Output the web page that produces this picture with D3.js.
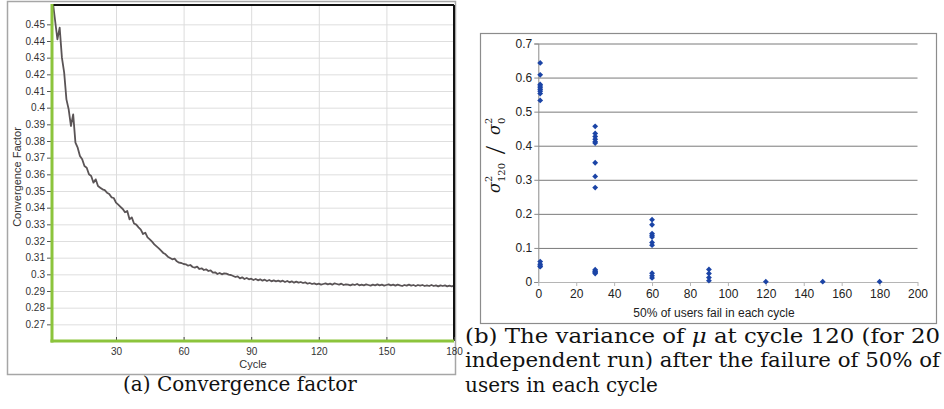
<!DOCTYPE html>
<html>
<head>
<meta charset="utf-8">
<script src="https://cdn.jsdelivr.net/npm/d3@7"></script>
<style>
body { margin: 0; background: #fff; }
svg { display: block; }
</style>
</head>
<body>
<script>
let width = 944;
let height = 409;

// (a) convergence factor per cycle, starting at cycle 1
let convergence = [
    0.472, 0.463, 0.452, 0.441, 0.448, 0.430, 0.421, 0.405, 0.399, 0.389,
    0.396, 0.379, 0.376, 0.371, 0.369, 0.365, 0.364, 0.360, 0.359, 0.355,
    0.357, 0.353, 0.352, 0.351, 0.3505, 0.3490, 0.3482, 0.3462, 0.3458, 0.3430,
    0.3418, 0.3405, 0.3392, 0.3372, 0.3380, 0.3330, 0.3342, 0.3305, 0.3298, 0.3282,
    0.3268, 0.3242, 0.3250, 0.3222, 0.3210, 0.3196, 0.3180, 0.3168, 0.3156, 0.3142,
    0.3128, 0.3120, 0.3106, 0.3098, 0.3090, 0.3094, 0.3078, 0.3070, 0.3068, 0.3062,
    0.3060, 0.3052, 0.3056, 0.3044, 0.3040, 0.3046, 0.3032, 0.3036, 0.3026, 0.3030,
    0.3020, 0.3024, 0.3010, 0.3012, 0.3002, 0.3008, 0.3000, 0.3006, 0.3004, 0.2998,
    0.2996, 0.2990, 0.2984, 0.2988, 0.2976, 0.2982, 0.2972, 0.2978, 0.2970, 0.2974,
    0.2966, 0.2972, 0.2964, 0.2970, 0.2962, 0.2968, 0.2960, 0.2966, 0.2958, 0.2964,
    0.2958, 0.2962, 0.2956, 0.2962, 0.2954, 0.2960, 0.2952, 0.2958, 0.2950, 0.2956,
    0.2950, 0.2954, 0.2948, 0.2952, 0.2944, 0.2948, 0.2942, 0.2946, 0.2940, 0.2944,
    0.2938, 0.2942, 0.2946, 0.2940, 0.2944, 0.2938, 0.2946, 0.2942, 0.2938, 0.2944,
    0.2936, 0.2940, 0.2938, 0.2934, 0.2940, 0.2936, 0.2942, 0.2934, 0.2938, 0.2934,
    0.2940, 0.2936, 0.2932, 0.2938, 0.2934, 0.2940, 0.2934, 0.2938, 0.2932, 0.2936,
    0.2940, 0.2934, 0.2938, 0.2932, 0.2938, 0.2934, 0.2930, 0.2936, 0.2932, 0.2938,
    0.2932, 0.2936, 0.2930, 0.2936, 0.2932, 0.2936, 0.2930, 0.2934, 0.2930, 0.2936,
    0.2930, 0.2934, 0.2928, 0.2934, 0.2930, 0.2934, 0.2928, 0.2932, 0.2928, 0.2932
];
let cycleTicks = [30, 60, 90, 120, 150, 180];
let factorTicks = [0.27, 0.28, 0.29, 0.3, 0.31, 0.32, 0.33, 0.34, 0.35, 0.36,
                   0.37, 0.38, 0.39, 0.4, 0.41, 0.42, 0.43, 0.44, 0.45];

// (b) variance ratio of 20 runs for each failure cycle
let failCycles = [1, 30, 60, 90, 120, 150, 180];
let varianceRuns = [
    [0.643, 0.608, 0.580, 0.575, 0.570, 0.565, 0.560, 0.553, 0.533, 0.060, 0.052, 0.047, 0.045],
    [0.457, 0.436, 0.427, 0.419, 0.412, 0.408, 0.350, 0.310, 0.277, 0.036, 0.032, 0.030, 0.028, 0.025],
    [0.183, 0.168, 0.142, 0.137, 0.132, 0.116, 0.108, 0.026, 0.018, 0.012],
    [0.037, 0.025, 0.013, 0.004],
    [0.001],
    [0.001],
    [0.001]
];
let varTicks = [0, 0.1, 0.2, 0.3, 0.4, 0.5, 0.6, 0.7];
let failTicks = [0, 20, 40, 60, 80, 100, 120, 140, 160, 180, 200];

let svg = d3.select("body").append("svg")
    .attr("width", width).attr("height", height)
    .style("font-family", "'Liberation Sans', Arial, sans-serif");

// ---------- (a) ----------
let a = {left: 52, right: 454, top: 5, bottom: 341};
let xA = d3.scaleLinear().domain([1.6, 180]).range([a.left, a.right]);
let yA = d3.scaleLinear().domain([0.26, 0.4616]).range([a.bottom, a.top]);

svg.append("rect")
    .attr("x", 7.5).attr("y", 1.5).attr("width", 448).attr("height", 373)
    .attr("fill", "none").attr("stroke", "#a6a6a6").attr("stroke-width", 1.5);

let gA = svg.append("g");

// grid
gA.append("g")
    .attr("transform", "translate(" + a.left + ",0)")
    .call(d3.axisLeft(yA).tickValues(factorTicks).tickSize(-(a.right - a.left)).tickFormat(""))
    .call(g => g.select(".domain").remove())
    .call(g => g.selectAll("line").attr("stroke", "#dedede"));
gA.append("g")
    .attr("transform", "translate(0," + a.bottom + ")")
    .call(d3.axisBottom(xA).tickValues(cycleTicks.slice(0, 5)).tickSize(-(a.bottom - a.top)).tickFormat(""))
    .call(g => g.select(".domain").remove())
    .call(g => g.selectAll("line").attr("stroke", "#dcdcdc"));

svg.append("clipPath").attr("id", "clipA")
    .append("rect")
    .attr("x", a.left).attr("y", a.top)
    .attr("width", a.right - a.left).attr("height", a.bottom - a.top);

let line = d3.line()
    .x(function(d, i){ return xA(i + 1); })
    .y(function(d){ return yA(d); });

gA.append("path")
    .datum(convergence)
    .attr("clip-path", "url(#clipA)")
    .attr("d", line)
    .attr("fill", "none")
    .attr("stroke", "#5a5456")
    .attr("stroke-width", 1.8)
    .attr("stroke-linejoin", "round");

// top and right border
gA.append("line")
    .attr("x1", a.left).attr("x2", a.right).attr("y1", a.top).attr("y2", a.top)
    .attr("stroke", "#111").attr("stroke-width", 2);
gA.append("line")
    .attr("x1", a.right).attr("x2", a.right).attr("y1", a.top).attr("y2", a.bottom)
    .attr("stroke", "#111").attr("stroke-width", 2);

// axes
gA.append("g")
    .attr("transform", "translate(" + a.left + ",0)")
    .call(d3.axisLeft(yA).tickValues(factorTicks).tickSize(5).tickPadding(2).tickFormat(d3.format("~g")))
    .call(g => g.select(".domain").remove())
    .call(g => g.selectAll("line").attr("stroke", "#555"))
    .call(g => g.selectAll("text").attr("fill", "#333").style("font-size", "10px")
        .style("font-family", "'Liberation Sans', Arial, sans-serif"));
gA.append("g")
    .attr("transform", "translate(0," + a.bottom + ")")
    .call(d3.axisBottom(xA).tickValues(cycleTicks).tickSize(-4).tickPadding(7))
    .call(g => g.select(".domain").remove())
    .call(g => g.selectAll("line").attr("stroke", "#444"))
    .call(g => g.selectAll("text").attr("fill", "#333").style("font-size", "10px")
        .style("font-family", "'Liberation Sans', Arial, sans-serif"));

gA.append("line")
    .attr("x1", a.left).attr("x2", a.left).attr("y1", a.top - 1).attr("y2", a.bottom + 1.5)
    .attr("stroke", "#8cc43c").attr("stroke-width", 3);
gA.append("line")
    .attr("x1", a.left - 1.5).attr("x2", a.right).attr("y1", a.bottom).attr("y2", a.bottom)
    .attr("stroke", "#8cc43c").attr("stroke-width", 3);

gA.append("text")
    .attr("x", (a.left + a.right) / 2).attr("y", 368)
    .attr("text-anchor", "middle").attr("fill", "#333").style("font-size", "11px")
    .text("Cycle");
gA.append("text")
    .attr("transform", "translate(21,177) rotate(-90)")
    .attr("text-anchor", "middle").attr("fill", "#333").style("font-size", "11px")
    .text("Convergence Factor");

// ---------- (b) ----------
let b = {left: 538.3, right: 917.5, top: 43.5, bottom: 282};
let xB = d3.scaleLinear().domain([0, 200]).range([b.left, b.right]);
let yB = d3.scaleLinear().domain([0, 0.7]).range([b.bottom, b.top]);

svg.append("rect")
    .attr("x", 480.5).attr("y", 33.5).attr("width", 456).attr("height", 290)
    .attr("fill", "none").attr("stroke", "#8c8c8c").attr("stroke-width", 1.2);

let gB = svg.append("g");

gB.append("g")
    .attr("transform", "translate(" + b.left + ",0)")
    .call(d3.axisLeft(yB).tickValues(varTicks.slice(1)).tickSize(-(b.right - b.left)).tickFormat(""))
    .call(g => g.select(".domain").remove())
    .call(g => g.selectAll("line").attr("stroke", "#7a7a7a"));

gB.append("g")
    .attr("transform", "translate(" + b.left + ",0)")
    .call(d3.axisLeft(yB).tickValues(varTicks).tickSize(4).tickPadding(2).tickFormat(d3.format("~g")))
    .call(g => g.select(".domain").attr("stroke", "#8a8a8a"))
    .call(g => g.selectAll("line").attr("stroke", "#8a8a8a"))
    .call(g => g.selectAll("text").attr("fill", "#222").style("font-size", "12px")
        .style("font-family", "'Liberation Sans', Arial, sans-serif"));

gB.append("g")
    .attr("transform", "translate(0," + b.bottom + ")")
    .call(d3.axisBottom(xB).tickValues(failTicks).tickSize(4).tickPadding(3).tickSizeOuter(0))
    .call(g => g.select(".domain").attr("stroke", "#b5b5b5"))
    .call(g => g.selectAll("line").attr("stroke", "#b5b5b5"))
    .call(g => g.selectAll("text").attr("fill", "#222").style("font-size", "12px")
        .style("font-family", "'Liberation Sans', Arial, sans-serif"));

let points = [];
failCycles.forEach(function(c, i){
    varianceRuns[i].forEach(function(v){
        points.push({x: c, y: v});
    });
});

let diamond = d3.symbol().type(d3.symbolSquare).size(17);
gB.selectAll("path.pt")
    .data(points)
    .enter()
    .append("path")
        .attr("class", "pt")
        .attr("d", diamond)
        .attr("transform", function(d){
            return "translate(" + xB(d.x) + "," + yB(d.y) + ") rotate(45)";
        })
        .attr("fill", "#1b44a6")
;

gB.append("text")
    .attr("x", 714).attr("y", 317)
    .attr("text-anchor", "middle").attr("fill", "#222").style("font-size", "12px")
    .text("50% of users fail in each cycle");

// y label: sigma^2_120 / sigma^2_0
let yl = gB.append("g")
    .attr("transform", "translate(500,154) rotate(-90)")
    .style("font-family", "'DejaVu Serif', 'Liberation Serif', serif")
    .attr("fill", "#111");
yl.append("text").attr("x", -39).attr("y", 0).style("font-size", "16px").style("font-style", "italic").text("σ");
yl.append("text").attr("x", -28).attr("y", -8).style("font-size", "10px").text("2");
yl.append("text").attr("x", -28).attr("y", 5).style("font-size", "10px").text("120");
yl.append("text").attr("x", 4).attr("y", 5).attr("text-anchor", "middle")
    .style("font-family", "'Liberation Serif', serif").style("font-size", "30px").text("/");
yl.append("text").attr("x", 19).attr("y", 0).style("font-size", "16px").style("font-style", "italic").text("σ");
yl.append("text").attr("x", 30).attr("y", -8).style("font-size", "10px").text("2");
yl.append("text").attr("x", 30).attr("y", 5).style("font-size", "10px").text("0");

// ---------- captions ----------
let cap = svg.append("g")
    .style("font-family", "'DejaVu Serif', 'Liberation Serif', serif")
    .style("font-size", "20px")
    .attr("fill", "#111");

cap.append("text").attr("x", 240).attr("y", 391).attr("text-anchor", "middle")
    .text("(a) Convergence factor");

let l1 = cap.append("text").attr("x", 465).attr("y", 343)
    .attr("textLength", 475).attr("lengthAdjust", "spacingAndGlyphs");
l1.append("tspan").text("(b) The variance of ");
l1.append("tspan").style("font-style", "italic").text("μ");
l1.append("tspan").text(" at cycle 120 (for 20");

cap.append("text").attr("x", 465).attr("y", 367)
    .attr("textLength", 475).attr("lengthAdjust", "spacingAndGlyphs")
    .text("independent run) after the failure of 50% of");
cap.append("text").attr("x", 465).attr("y", 392)
    .text("users in each cycle");
</script>
</body>
</html>
